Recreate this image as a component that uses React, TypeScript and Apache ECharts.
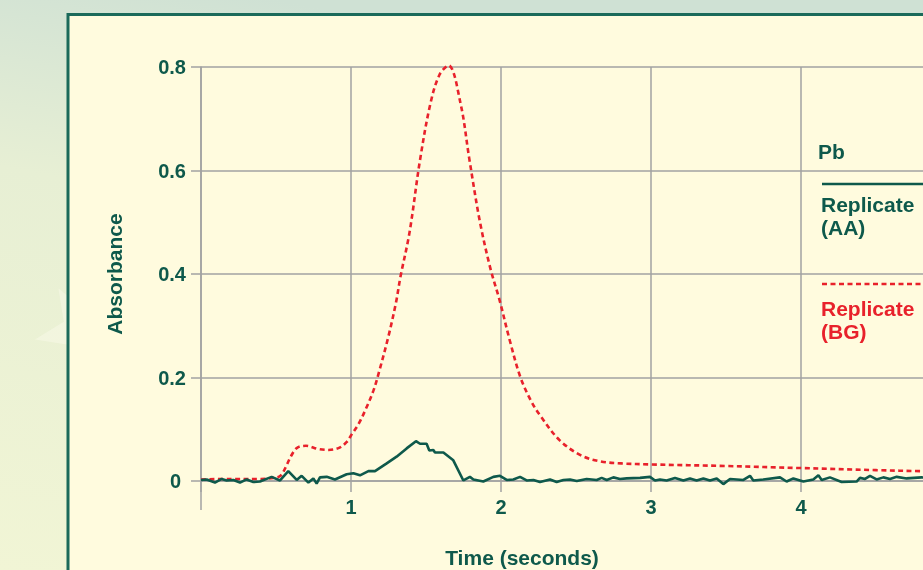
import React, { useEffect, useRef } from "react";
import * as echarts from "echarts";

// Time axis ticks
const xTicks = [0, 1, 2, 3, 4, 5];
const yTicks = [0, 0.2, 0.4, 0.6, 0.8];

// Pb Replicate (AA) — solid dark green
const aaTimes = [
  0, 0.038, 0.093, 0.138, 0.171, 0.216, 0.26, 0.304, 0.349, 0.393, 0.471, 0.527, 0.582, 0.638, 0.671,
  0.716, 0.749, 0.771, 0.793, 0.838, 0.893, 0.971, 1.016, 1.06, 1.116, 1.16, 1.238, 1.304, 1.371, 1.433,
  1.46, 1.504, 1.522, 1.549, 1.56, 1.616, 1.682, 1.749, 1.793, 1.816, 1.882, 1.949, 1.993, 2.038, 2.082,
  2.127, 2.171, 2.216, 2.26, 2.327, 2.371, 2.416, 2.46, 2.505, 2.571, 2.638, 2.671, 2.705, 2.749, 2.793,
  2.838, 2.927, 2.993, 3.027, 3.06, 3.104, 3.16, 3.216, 3.26, 3.304, 3.349, 3.393, 3.438, 3.482, 3.527,
  3.616, 3.66, 3.682, 3.749, 3.86, 3.904, 3.949, 4.016, 4.082, 4.116, 4.138, 4.193, 4.271, 4.371, 4.393,
  4.427, 4.46, 4.504, 4.549, 4.593, 4.638, 4.704, 4.804, 4.9, 5.0,
];
const aaValues = [
  0.002, 0.003, -0.003, 0.004, 0.001, 0.002, -0.003, 0.003, -0.002, -0.001, 0.008, 0.001, 0.019, 0.002, 0.01,
  -0.003, 0.005, -0.005, 0.007, 0.008, 0.003, 0.013, 0.015, 0.011, 0.019, 0.019, 0.034, 0.047, 0.063, 0.077,
  0.072, 0.072, 0.059, 0.06, 0.055, 0.055, 0.04, 0.001, 0.008, 0.003, -0.001, 0.008, 0.01, 0.002, 0.003,
  0.008, 0.001, 0.002, -0.002, 0.003, -0.002, 0.002, 0.003, 0.0, 0.004, 0.002, 0.006, 0.002, 0.007, 0.004,
  0.005, 0.006, 0.008, 0.001, 0.003, 0.001, 0.006, 0.001, 0.005, 0.001, 0.005, 0.001, 0.005, -0.006, 0.004,
  0.002, 0.01, 0.001, 0.003, 0.007, -0.001, 0.005, -0.001, 0.003, 0.011, 0.002, 0.007, -0.002, -0.001, 0.006,
  0.004, 0.01, 0.003, 0.007, 0.004, 0.008, 0.005, 0.007, 0.005, 0.006,
];

// Pb Replicate (BG) — red dashed
const bgTimes = [
  0, 0.2, 0.4, 0.48, 0.53, 0.57, 0.6, 0.64, 0.7, 0.78, 0.85, 0.92, 0.97, 1.0, 1.05, 1.1, 1.15, 1.19, 1.25,
  1.3, 1.33, 1.39, 1.46, 1.53, 1.59, 1.65, 1.73, 1.79, 1.86, 1.93, 1.99, 2.06, 2.13, 2.2, 2.26, 2.39, 2.53,
  2.66, 2.8, 3.0, 3.5, 4.0, 4.5, 4.81, 5.0,
];
const bgValues = [
  0.003, 0.004, 0.004, 0.006, 0.01, 0.03, 0.048, 0.064, 0.068, 0.062, 0.06, 0.064, 0.075, 0.088, 0.11, 0.14,
  0.175, 0.214, 0.28, 0.345, 0.395, 0.48, 0.62, 0.73, 0.785, 0.803, 0.73, 0.62, 0.5, 0.41, 0.35, 0.27, 0.2,
  0.155, 0.127, 0.079, 0.05, 0.038, 0.034, 0.032, 0.029, 0.025, 0.021, 0.019, 0.018,
];

const legendTitle = "Pb";
const seriesNames = ["Replicate\n(AA)", "Replicate\n(BG)"];
const xName = "Time (seconds)";
const yName = "Absorbance";

const GREEN = "#0e594b";
const RED = "#e8212b";
const GRID = "#a2a2a2";
const FONT = "'Liberation Sans', Arial, Helvetica, sans-serif";

function starPoints(cx: number, cy: number, R: number, r: number, rot: number) {
  const pts: number[][] = [];
  for (let i = 0; i < 10; i++) {
    const a = rot + (i * Math.PI) / 5;
    const rad = i % 2 === 0 ? R : r;
    pts.push([cx + rad * Math.cos(a), cy + rad * Math.sin(a)]);
  }
  return pts;
}

export default function App() {
  const ref = useRef<HTMLDivElement>(null);

  useEffect(() => {
    if (!ref.current) return;
    const chart = echarts.init(ref.current, undefined, { renderer: "svg" });

    const aaData = aaTimes.map((t, i) => [t, aaValues[i]]);
    const bgData = bgTimes.map((t, i) => [t, bgValues[i]]);

    const labelStyle = { color: GREEN, fontFamily: FONT, fontWeight: "bold" as const, fontSize: 20 };

    const baseGraphics: any[] = [
      {
        type: "rect",
        z: -20,
        silent: true,
        shape: { x: 0, y: 0, width: 923, height: 570 },
        style: {
          fill: new echarts.graphic.LinearGradient(0.3, 0, 0, 1, [
            { offset: 0, color: "#cfe1d4" },
            { offset: 0.35, color: "#e7efd4" },
            { offset: 1, color: "#f1f5d5" },
          ]),
        },
      },
      {
        type: "polygon",
        z: -19,
        silent: true,
        shape: { points: starPoints(82, 330, 48, 20, Math.PI - 0.2) },
        style: { fill: "rgba(250,250,235,0.45)" },
      },
      {
        type: "rect",
        z: -18,
        silent: true,
        shape: { x: 68, y: 14.5, width: 900, height: 600 },
        style: { fill: "#fffbde", stroke: "#1b6a5a", lineWidth: 3 },
      },
    ];

    const legendGraphics: any[] = [
      {
        type: "text",
        z: 10,
        x: 818,
        y: 141,
        style: { text: legendTitle, fill: GREEN, font: `bold 21px ${FONT}` },
      },
      {
        type: "line",
        z: 10,
        shape: { x1: 822, y1: 184, x2: 940, y2: 184 },
        style: { stroke: GREEN, lineWidth: 2.5 },
      },
      {
        type: "text",
        z: 10,
        x: 821,
        y: 193,
        style: { text: seriesNames[0], fill: GREEN, font: `bold 21px ${FONT}`, lineHeight: 23 },
      },
      {
        type: "line",
        z: 10,
        shape: { x1: 822, y1: 284, x2: 940, y2: 284 },
        style: { stroke: RED, lineWidth: 2.5, lineDash: [5, 3.5] },
      },
      {
        type: "text",
        z: 10,
        x: 821,
        y: 297,
        style: { text: seriesNames[1], fill: RED, font: `bold 21px ${FONT}`, lineHeight: 23 },
      },
      {
        type: "text",
        z: 10,
        x: 522,
        y: 557,
        style: {
          text: xName,
          fill: GREEN,
          font: `bold 21px ${FONT}`,
          align: "center",
          verticalAlign: "middle",
        },
      },
    ];

    chart.setOption({
      animation: false,
      backgroundColor: "transparent",
      grid: { left: 201, top: 67, width: 750, height: 414, containLabel: false, outerBoundsMode: "none" },
      xAxis: {
        type: "value",
        min: xTicks[0],
        max: xTicks[xTicks.length - 1],
        interval: 1,
        axisLine: { show: true, lineStyle: { color: GRID, width: 1.5 } },
        axisTick: { show: true, length: 11, lineStyle: { color: GRID, width: 1.5 } },
        splitLine: { show: true, lineStyle: { color: GRID, width: 1.5 } },
        axisLabel: {
          ...labelStyle,
          margin: 16,
          formatter: (v: number) => (v === 0 || v === 5 ? "" : String(v)),
        },
      },
      yAxis: {
        type: "value",
        min: yTicks[0],
        max: yTicks[yTicks.length - 1],
        interval: 0.2,
        name: yName,
        nameLocation: "middle",
        nameGap: 76,
        nameTextStyle: { color: GREEN, fontFamily: FONT, fontWeight: "bold", fontSize: 21 },
        axisLine: { show: true, lineStyle: { color: GRID, width: 1.5 } },
        axisTick: { show: true, length: 10, lineStyle: { color: GRID, width: 1.5 } },
        splitLine: { show: true, lineStyle: { color: GRID, width: 1.5 } },
        axisLabel: {
          ...labelStyle,
          margin: 15,
          formatter: (v: number) => (v === 0 ? "{z|0}" : v.toFixed(1)),
          rich: { z: { ...labelStyle, padding: [0, 5, 0, 0] } },
        },
      },
      graphic: [...baseGraphics, ...legendGraphics],
      series: [
        {
          name: "Replicate (BG)",
          type: "line",
          data: bgData,
          showSymbol: false,
          smooth: 0.35,
          clip: false,
          lineStyle: { color: RED, width: 2.6, type: [5, 3.5] },
          z: 3,
        },
        {
          name: "Replicate (AA)",
          type: "line",
          data: aaData,
          showSymbol: false,
          clip: false,
          lineStyle: { color: GREEN, width: 2.6 },
          z: 4,
        },
      ],
    });

    // extend the y-axis line below the x axis (as in the reference)
    const p = chart.convertToPixel({ gridIndex: 0 }, [0, 0]) as number[];
    chart.setOption({
      graphic: [
        ...baseGraphics,
        ...legendGraphics,
        {
          type: "line",
          z: 1,
          shape: { x1: p[0], y1: p[1], x2: p[0], y2: p[1] + 29 },
          style: { stroke: GRID, lineWidth: 1.5 },
        },
      ],
    });

    return () => chart.dispose();
  }, []);

  return (
    <div
      ref={ref}
      style={{ position: "fixed", left: 0, top: 0, width: 923, height: 570 }}
    />
  );
}
